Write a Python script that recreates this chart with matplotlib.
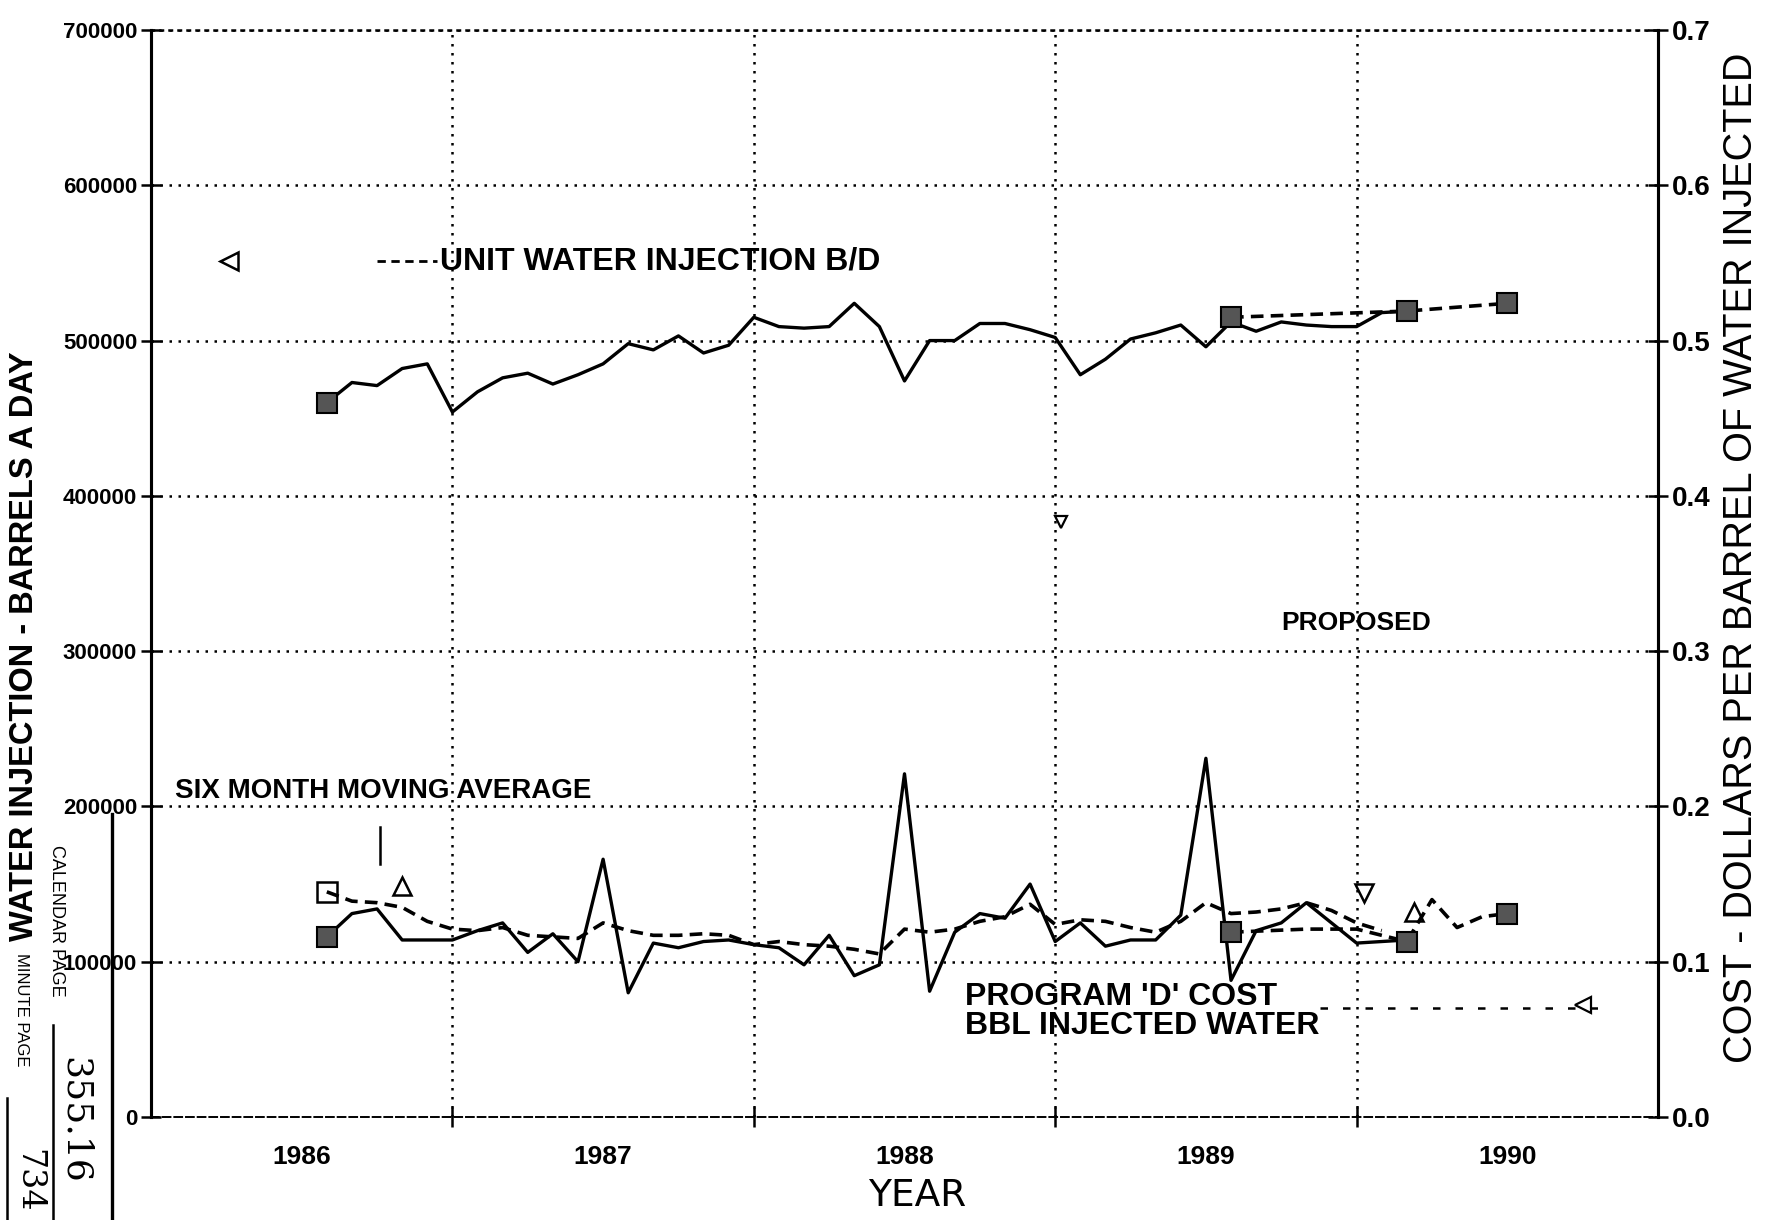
import numpy as np
import matplotlib
matplotlib.use("Agg")
import matplotlib.pyplot as plt

plt.rcParams['font.family'] = ['Liberation Sans', 'DejaVu Sans']
NARROW = ['Liberation Sans Narrow', 'Liberation Sans', 'DejaVu Sans']

# monthly readings, first month is August 1986
start = 1986 + 7 / 12

# unit water injection, barrels a day
injection = [460000, 473000, 471000, 482000, 485000, 454000, 467000, 476000, 479000, 472000, 478000, 485000,
             498000, 494000, 503000, 492000, 497000, 515000, 509000, 508000, 509000, 524000, 509000, 474000,
             500000, 500000, 511000, 511000, 507000, 502000, 478000, 488000, 501000, 505000, 510000, 496000,
             512000, 506000, 512000, 510000, 509000, 509000, 518000, 519000]
prop_inj_month = [36, 43, 47]
prop_inj = [515000, 519000, 524000]

# program 'D' cost, dollars per barrel injected
cost = [0.116, 0.131, 0.134, 0.114, 0.114, 0.114, 0.120, 0.125, 0.106, 0.118, 0.100, 0.166,
        0.080, 0.112, 0.109, 0.113, 0.114, 0.111, 0.109, 0.098, 0.117, 0.091, 0.098, 0.221,
        0.081, 0.119, 0.131, 0.128, 0.150, 0.113, 0.125, 0.110, 0.114, 0.114, 0.130, 0.231,
        0.088, 0.120, 0.125, 0.138, 0.125, 0.112, 0.113, 0.114]

# six month moving average of the cost
moving_avg = [0.145, 0.139, 0.138, 0.135, 0.126, 0.121, 0.120, 0.122, 0.117, 0.116, 0.115, 0.125,
              0.120, 0.117, 0.117, 0.118, 0.117, 0.111, 0.113, 0.111, 0.110, 0.108, 0.105, 0.121,
              0.119, 0.121, 0.126, 0.129, 0.137, 0.124, 0.127, 0.126, 0.122, 0.119, 0.126, 0.138,
              0.131, 0.132, 0.134, 0.138, 0.133, 0.125, 0.120]

prop_cost_month = [36, 39, 41, 43, 44, 45, 46, 47]
prop_cost = [0.119, 0.121, 0.121, 0.113, 0.140, 0.122, 0.129, 0.131]
prop_cost_marked = [36, 43, 47]

# open triangles along the cost curves
open_tri_month = [3, 43.3]
open_tri_cost = [0.149, 0.132]
open_down_month = [41.3]
open_down_cost = [0.144]

years = [1986, 1987, 1988, 1989, 1990]
left_ticks = [0, 100000, 200000, 300000, 400000, 500000, 600000, 700000]
right_ticks = [0.0, 0.1, 0.2, 0.3, 0.4, 0.5, 0.6, 0.7]


def month_x(m):
    return start + np.asarray(m, dtype=float) / 12


fig = plt.figure(figsize=(17.78, 12.20), dpi=100)
ax = fig.add_axes([151 / 1778, 1 - 1117 / 1220, 1507 / 1778, 1087 / 1220])
ax2 = ax.twinx()

ax.set_xlim(1986, 1991)
ax.set_ylim(0, 700000)
ax2.set_ylim(0, 0.7)

dots = (0, (1, 2.6))
for v in left_ticks[1:]:
    ax.axhline(v, color='black', lw=1.8, linestyle=dots, zorder=1)
for yr in years[1:]:
    ax.axvline(yr, color='black', lw=1.8, linestyle=dots, zorder=1)

# injection, actual and proposed
x = month_x(np.arange(len(injection)))
ax.plot(x, injection, color='black', lw=2.4, zorder=3)
ax.plot(month_x(prop_inj_month), prop_inj, color='black', lw=2.6,
        linestyle=(0, (3.5, 2)), marker='s', ms=15, mfc='#555555', mec='black', mew=1.5, zorder=4)
ax.plot(x[:1], injection[:1], linestyle='none', marker='s', ms=15,
        mfc='#555555', mec='black', mew=1.5, zorder=4)

# cost, moving average and proposed cost on the right axis
ax2.plot(month_x(np.arange(len(cost))), cost, color='black', lw=2.4, zorder=3)
ax2.plot(month_x(0), cost[0], linestyle='none', marker='s', ms=15,
         mfc='#555555', mec='black', mew=1.5, zorder=4)
ax2.plot(month_x(np.arange(len(moving_avg))), moving_avg, color='black', lw=2.6,
         linestyle=(0, (3.5, 2)), zorder=3)
ax2.plot(month_x(0), moving_avg[0], linestyle='none', marker='s', ms=14,
         mfc='none', mec='black', mew=1.8, zorder=4)
ax2.plot(month_x(prop_cost_month), prop_cost, color='black', lw=2.6,
         linestyle=(0, (3.5, 2)), zorder=3)
marked = [prop_cost[prop_cost_month.index(m)] for m in prop_cost_marked]
ax2.plot(month_x(prop_cost_marked), marked, linestyle='none', marker='s', ms=15,
         mfc='#555555', mec='black', mew=1.5, zorder=4)
ax2.plot(month_x(open_tri_month), open_tri_cost, linestyle='none', marker='^', ms=13,
         mfc='none', mec='black', mew=1.8, zorder=4)
ax2.plot(month_x(open_down_month), open_down_cost, linestyle='none', marker='v', ms=13,
         mfc='none', mec='black', mew=1.8, zorder=4)

# annotations inside the plot
ax.plot([1986.26], [551000], marker='<', ms=13, mfc='none', mec='black', mew=1.8)
ax.plot([1986.75, 1986.95], [551000, 551000], color='black', lw=2, linestyle=(0, (3, 2)))
ax.text(1986.96, 551000, "UNIT WATER INJECTION B/D", family=NARROW, fontsize=23,
        weight='bold', va='center', ha='left')
ax.text(1986.08, 210000, "SIX MONTH MOVING AVERAGE", family=NARROW, fontsize=20,
        weight='bold', va='center', ha='left')
ax.plot([1986.76, 1986.76], [187000, 163000], color='black', lw=1.8)
ax.text(1990.0, 318000, "PROPOSED", family=NARROW, fontsize=19, weight='bold',
        va='center', ha='center')
ax.plot([1989.02], [383000], marker='v', ms=9, mfc='none', mec='black', mew=1.6)
ax.text(1988.70, 68000, "PROGRAM 'D' COST\nBBL INJECTED WATER", family=NARROW,
        fontsize=23, weight='bold', va='center', ha='left', linespacing=0.95)
ax.plot([1989.88, 1990.82], [70000, 70000], color='black', lw=1.8, linestyle=(0, (3, 6)))
ax.plot([1990.75], [72000], marker='<', ms=11, mfc='none', mec='black', mew=1.6)

# axes, ticks and labels
for side in ['left', 'right']:
    ax.spines[side].set_linewidth(2.2)
    ax2.spines[side].set_linewidth(2.2)
ax.spines['top'].set_linestyle(dots)
ax.spines['top'].set_linewidth(1.8)
ax2.spines['top'].set_visible(False)
ax.spines['bottom'].set_linestyle((0, (4, 2)))
ax.spines['bottom'].set_linewidth(1.4)
ax2.spines['bottom'].set_visible(False)

ax.set_yticks(left_ticks)
ax.set_yticklabels([str(v) for v in left_ticks])
ax.tick_params(axis='y', direction='inout', length=14, width=1.8, pad=3, labelsize=16)
for t in ax.get_yticklabels():
    t.set_fontweight('bold')

ax2.set_yticks(right_ticks)
ax2.set_yticklabels(["%.1f" % v for v in right_ticks])
ax2.tick_params(axis='y', direction='inout', length=14, width=1.8, pad=3, labelsize=20)
for t in ax2.get_yticklabels():
    t.set_fontweight('bold')

ax.set_xticks(years[1:])
ax.set_xticklabels([])
ax.set_xticks([y + 0.5 for y in years], minor=True)
ax.set_xticklabels([str(y) for y in years], minor=True)
ax.tick_params(axis='x', which='major', direction='inout', length=14, width=1.8)
ax.tick_params(axis='x', which='minor', length=0, pad=20, labelsize=19)
for t in ax.get_xticklabels(minor=True):
    t.set_fontweight('bold')

fig.text(0.516, 0.020, "YEAR", ha='center', va='center', fontsize=27, family='DejaVu Sans')
fig.text(0.014, 0.470, "WATER INJECTION - BARRELS A DAY", rotation=90, ha='center',
         va='center', fontsize=23.5, weight='bold')
fig.text(0.979, 0.543, "COST - DOLLARS PER BARREL OF WATER INJECTED", rotation=90,
         ha='center', va='center', fontsize=28.5)

# page stamp along the left edge
fig.text(0.032, 0.245, "CALENDAR PAGE", rotation=-90, ha='center', va='center', fontsize=13)
fig.text(0.042, 0.082, "355.16", rotation=-90, ha='center', va='center', fontsize=26,
         family='DejaVu Serif')
fig.text(0.012, 0.172, "MINUTE PAGE", rotation=-90, ha='center', va='center', fontsize=12)
fig.text(0.016, 0.032, "734", rotation=-90, ha='center', va='center', fontsize=24,
         family='DejaVu Serif')
fig.add_artist(plt.Line2D([0.063, 0.063], [0.0, 0.333], color='black', lw=2.4))
fig.add_artist(plt.Line2D([0.030, 0.030], [0.0, 0.16], color='black', lw=1.8))
fig.add_artist(plt.Line2D([0.004, 0.004], [0.0, 0.10], color='black', lw=1.8))

fig.savefig("out.png", dpi=100)
